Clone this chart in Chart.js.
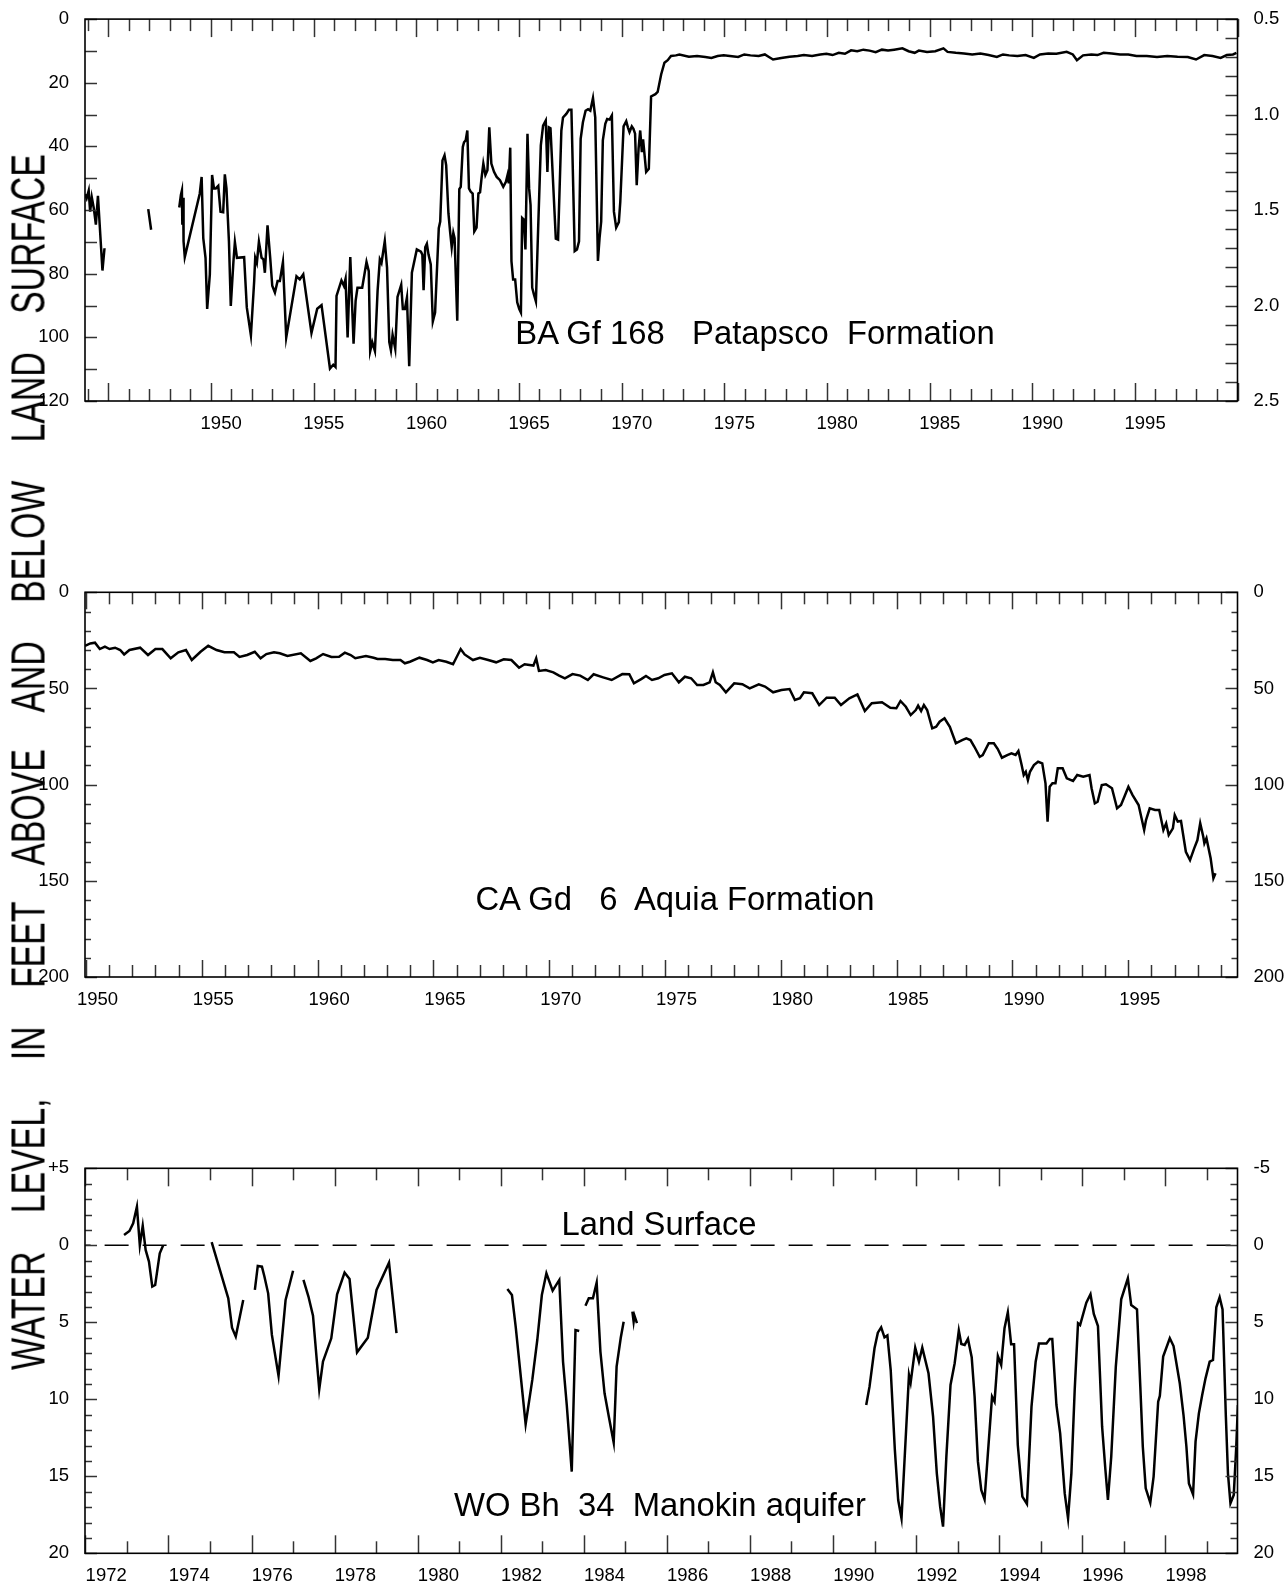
<!DOCTYPE html>
<html lang="en">
<head>
  <meta charset="UTF-8">
  <title>Water levels in three wells</title>
  <script src="https://cdn.jsdelivr.net/npm/chart.js"></script>
  <style>
    body { margin: 0; background: #fff; width: 1284px; height: 1583px; position: relative; overflow: hidden;
           font-family: "Liberation Sans", Arial, sans-serif; }
    canvas { position: absolute; left: 0; }
    .well { position: absolute; white-space: pre; font-size: 32.8px; line-height: 1; color: #000; transform: translateX(-50%); }
    #yTitle { position: absolute; left: 28px; top: 762px; font-size: 49px; line-height: 1; white-space: nowrap;
              word-spacing: 42px; color: #000; transform: translate(-50%, -50%) rotate(-90deg) scaleX(0.69); }
  </style>
</head>
<body>
  <canvas id="baChart" style="top:0px;width:1284px;height:440px" width="1284" height="440"></canvas>
  <canvas id="caChart" style="top:560px;width:1284px;height:460px" width="1284" height="460"></canvas>
  <canvas id="woChart" style="top:1130px;width:1284px;height:453px" width="1284" height="453"></canvas>

  <div id="yTitle">WATER LEVEL, IN FEET ABOVE AND BELOW LAND SURFACE</div>
  <div class="well" style="left:755px;top:317px">BA Gf 168   Patapsco  Formation</div>
  <div class="well" style="left:675px;top:883px">CA Gd   6  Aquia Formation</div>
  <div class="well" style="left:659px;top:1208px">Land Surface</div>
  <div class="well" style="left:660px;top:1489px">WO Bh  34  Manokin aquifer</div>

  <script>
    // ---- BA Gf 168, Patapsco Formation (feet below land surface) ----
    const baYears = [
      1943.87, 1943.95, 1944.05, 1944.12, 1944.2, 1944.3, 1944.4, 1944.5, 1944.72, 1944.82,
      1946,
      1946.95, 1947.09,
      1948,
      1948.46, 1948.54, 1948.59, 1948.61, 1948.65, 1948.67, 1948.73, 1949.46, 1949.55, 1949.63,
      1949.74, 1949.82, 1949.95, 1950.06, 1950.15, 1950.24, 1950.36, 1950.47, 1950.6, 1950.68,
      1950.76, 1950.88, 1950.97, 1951.1, 1951.17, 1951.27, 1951.62, 1951.75, 1951.95, 1952.11,
      1952.16, 1952.24, 1952.34, 1952.47, 1952.56, 1952.63, 1952.76, 1952.89, 1952.99, 1953.12,
      1953.25, 1953.36, 1953.51, 1953.67, 1954.17, 1954.33, 1954.5, 1954.9, 1955.18, 1955.39,
      1955.8, 1955.96, 1956.07, 1956.12, 1956.36, 1956.48, 1956.56, 1956.66, 1956.79, 1956.95,
      1957.05, 1957.14, 1957.37, 1957.58, 1957.69, 1957.76, 1957.86, 1957.99, 1958.12, 1958.23,
      1958.31, 1958.47, 1958.58, 1958.69, 1958.77, 1958.85, 1958.98, 1959.09, 1959.27, 1959.35,
      1959.45, 1959.55, 1959.66, 1959.79, 1960.03, 1960.23, 1960.3, 1960.36, 1960.44, 1960.52,
      1960.6, 1960.71, 1960.81, 1960.92, 1961.1, 1961.17, 1961.28, 1961.38, 1961.46, 1961.57,
      1961.65, 1961.73, 1961.81, 1961.87, 1962.0, 1962.1, 1962.17, 1962.27, 1962.33, 1962.41,
      1962.49, 1962.57, 1962.65, 1962.75, 1962.83, 1962.94, 1963.03, 1963.11, 1963.19, 1963.27,
      1963.37, 1963.47, 1963.56, 1963.66, 1963.79, 1963.92, 1964.08, 1964.24, 1964.37, 1964.45,
      1964.51, 1964.58, 1964.64, 1964.72, 1964.82, 1964.92, 1965.02, 1965.1, 1965.16, 1965.24,
      1965.32, 1965.42, 1965.5, 1965.57, 1965.65, 1965.73, 1965.83, 1965.94, 1966.07, 1966.18,
      1966.31, 1966.39, 1966.46, 1966.54, 1966.8, 1966.91, 1967.07, 1967.15, 1967.31, 1967.44,
      1967.56, 1967.72, 1967.83, 1967.93, 1968.01, 1968.12, 1968.25, 1968.37, 1968.48, 1968.61,
      1968.72, 1968.85, 1968.93, 1969.01, 1969.09, 1969.21, 1969.3, 1969.42, 1969.53, 1969.63,
      1969.74, 1969.87, 1969.94, 1970.1, 1970.23, 1970.31, 1970.39, 1970.5, 1970.58, 1970.66,
      1970.74, 1970.83, 1970.91, 1970.99, 1971.05, 1971.2, 1971.33, 1971.44, 1971.65, 1971.76,
      1971.93, 1972.09, 1972.25, 1972.41, 1972.65, 1972.82, 1973.28, 1973.68, 1974.08, 1974.38,
      1974.68, 1974.98, 1975.28, 1975.68, 1975.98, 1976.28, 1976.68, 1976.98, 1977.18, 1977.38,
      1977.78, 1978.18, 1978.58, 1978.88, 1979.28, 1979.68, 1979.98, 1980.28, 1980.58, 1980.88,
      1981.18, 1981.48, 1981.78, 1982.08, 1982.38, 1982.68, 1982.98, 1983.28, 1983.68, 1983.98,
      1984.28, 1984.48, 1984.88, 1985.28, 1985.68, 1985.88, 1986.28, 1986.68, 1987.08, 1987.48,
      1987.88, 1988.28, 1988.58, 1988.88, 1989.28, 1989.68, 1990.08, 1990.38, 1990.78, 1991.18,
      1991.68, 1991.98, 1992.18, 1992.48, 1992.88, 1993.18, 1993.48, 1993.88, 1994.28, 1994.68,
      1995.08, 1995.58, 1996.08, 1996.58, 1997.08, 1997.58, 1997.98, 1998.38, 1998.78, 1999.18,
      1999.48, 1999.78, 1999.95
    ];
    const baDepth = [
      55, 56.3, 53.9, 60.5, 56, 59.5, 64.6, 55.5, 79, 72,
      null,
      59.7, 66.2,
      null,
      59.2, 55.3, 53.9, 64.6, 56.1, 69.8, 74.8, 54.8, 49.6, 68.8,
      75, 91.1, 80.2, 49.0, 53.2, 53.2, 52.4, 60.5, 60.7, 48.8,
      53.2, 69.8, 90.1, 76.1, 70.1, 75.0, 74.8, 90.6, 99.4, 82.3,
      75.0, 76.6, 70.0, 75.0, 75.5, 79.7, 64.8, 75.0, 83.8, 85.9,
      82.3, 82.3, 76.4, 100.1, 80.8, 81.8, 80.2, 98.6, 91.0, 89.9,
      109.8, 108.6, 109.3, 87.0, 82.1, 83.8, 81.6, 100.0, 74.8, 102.0,
      88.5, 84.4, 84.4, 76.3, 79.2, 104.3, 101.5, 104.3, 85.4, 75.5,
      76.6, 69.8, 78.1, 101.5, 104.1, 99.2, 103.6, 87.3, 83.5, 91.1,
      91.1, 87.5, 109.1, 79.7, 72.4, 73.1, 74, 85.2, 71.7, 70.6,
      74, 77.1, 95, 92.2, 65.7, 63.6, 44.4, 42.8, 45.9, 61,
      66.7, 71.7, 67.2, 68.8, 94.8, 53.4, 52.7, 40.2, 38.7, 38.1,
      35, 53.2, 54.2, 54.8, 66.7, 65.5, 54.8, 54.4, 49.6, 45.4,
      49, 47.5, 34.0, 45.4, 48, 49.6, 50.6, 52.7, 51.1, 49,
      51.6, 40.4, 76.1, 81.8, 81.8, 89, 91.1, 92.2, 62.5, 63,
      72.4, 36, 53.2, 58.4, 84.4, 86.4, 88.7, 65.7, 39.7, 33.5,
      31.9, 48, 34, 34.3, 69, 69.3, 35, 30.9, 29.8, 28.5,
      28.5, 72.9, 72.4, 69.8, 37.6, 32.4, 28.8, 28.3, 28.8, 24.8,
      30.9, 76, 68.8, 63.6, 38.1, 32.9, 31.4, 31.6, 30.3, 60.5,
      65.5, 63.8, 57.4, 33.7, 32.1, 34, 35.5, 33.7, 34.5, 36,
      52.2, 40.7, 35, 41.8, 37.8, 48, 47, 24.3, 23.6, 22.9,
      17.4, 13.7, 12.9, 11.6, 11.4, 11.1, 11.8, 11.6, 11.9, 12.2,
      11.6, 11.4, 11.6, 11.9, 11.1, 11.4, 11.6, 11.1, 11.9, 12.7,
      12.2, 11.8, 11.6, 11.3, 11.6, 11.1, 10.9, 11.3, 10.6, 10.9,
      9.8, 10.1, 9.6, 9.9, 10.4, 9.6, 9.9, 9.6, 9.2, 10.1,
      10.6, 9.9, 10.3, 10.1, 9.2, 10.3, 10.6, 10.8, 11.1, 10.8,
      11.3, 11.9, 11.1, 11.4, 11.6, 11.3, 12.2, 11.1, 10.8, 10.9,
      10.3, 11.1, 12.9, 11.4, 11.1, 11.3, 10.6, 10.8, 11.1, 11.1,
      11.6, 11.6, 11.9, 11.6, 11.8, 11.9, 12.7, 11.3, 11.6, 12.2,
      11.3, 11.1, 10.6
    ];
    const baYearLabels = [1950, 1955, 1960, 1965, 1970, 1975, 1980, 1985, 1990, 1995];
    const baDepthTicks = [0, 20, 40, 60, 80, 100, 120];
    const baRightTicks = [0.5, 1.0, 1.5, 2.0, 2.5];

    // ---- CA Gd 6, Aquia Formation ----
    const caYears = [
      1949.96, 1950.19, 1950.39, 1950.6, 1950.82, 1951.02, 1951.26, 1951.48, 1951.65, 1951.88,
      1952.34, 1952.68, 1953.0, 1953.3, 1953.66, 1953.99, 1954.32, 1954.57, 1954.95, 1955.28,
      1955.64, 1955.98, 1956.39, 1956.63, 1956.96, 1957.29, 1957.54, 1957.79, 1958.12, 1958.37,
      1958.7, 1959.28, 1959.69, 1959.94, 1960.24, 1960.6, 1960.93, 1961.18, 1961.43, 1961.63,
      1962.09, 1962.42, 1962.59, 1962.92, 1963.25, 1963.58, 1963.77, 1963.99, 1964.4, 1964.73,
      1964.98, 1965.23, 1965.56, 1965.85, 1966.18, 1966.35, 1966.71, 1967.01, 1967.37, 1967.71,
      1968.04, 1968.37, 1968.7, 1968.94, 1969.32, 1969.44, 1969.56, 1969.85, 1970.18, 1970.43,
      1970.68, 1971.01, 1971.34, 1971.67, 1971.92, 1972.33, 1972.7, 1973.16, 1973.46, 1973.66,
      1973.99, 1974.18, 1974.44, 1974.71, 1974.98, 1975.3, 1975.6, 1975.86, 1976.13, 1976.39,
      1976.66, 1976.93, 1977.07, 1977.19, 1977.37, 1977.63, 1977.99, 1978.34, 1978.66, 1979.05,
      1979.32, 1979.67, 1980.03, 1980.38, 1980.61, 1980.83, 1981.0, 1981.36, 1981.66, 1981.98,
      1982.33, 1982.6, 1982.96, 1983.31, 1983.63, 1983.93, 1984.37, 1984.73, 1984.99, 1985.17,
      1985.4, 1985.61, 1985.83, 1985.93, 1986.06, 1986.18, 1986.32, 1986.54, 1986.71, 1986.86,
      1987.07, 1987.3, 1987.56, 1987.83, 1988.01, 1988.19, 1988.36, 1988.59, 1988.72, 1988.98,
      1989.2, 1989.37, 1989.55, 1989.78, 1989.96, 1990.14, 1990.26, 1990.4, 1990.49, 1990.58,
      1990.67, 1990.76, 1990.93, 1991.11, 1991.29, 1991.43, 1991.52, 1991.61, 1991.73, 1991.86,
      1991.96, 1992.17, 1992.35, 1992.62, 1992.8, 1993.06, 1993.33, 1993.42, 1993.56, 1993.68,
      1993.86, 1994.04, 1994.3, 1994.52, 1994.69, 1994.84, 1995.01, 1995.19, 1995.45, 1995.69,
      1995.77, 1995.93, 1996.16, 1996.34, 1996.52, 1996.64, 1996.75, 1996.93, 1997.01, 1997.14,
      1997.28, 1997.49, 1997.67, 1997.85, 1997.99, 1998.11, 1998.24, 1998.29, 1998.38, 1998.56,
      1998.68, 1998.77
    ];
    const caDepth = [
      27.8, 26.6, 26.2, 29.5, 28.3, 29.5, 28.8, 30, 32.3, 30,
      28.8, 32.6, 29.5, 29.5, 34.3, 31.2, 30, 35.2, 30.9, 27.8,
      30, 31.2, 31.2, 33.6, 32.6, 30.9, 34.3, 32.1, 31.2, 31.7,
      33.1, 31.7, 35.7, 34.3, 32.1, 33.6, 33.5, 31.4, 32.6, 34.3,
      33.1, 34, 34.7, 34.7, 35.2, 35.2, 36.9, 36.1, 34, 35.2,
      36.4, 35.2, 36.1, 37.4, 29.5, 32.3, 35.2, 34, 35.2, 36.4,
      34.8, 35.2, 39.2, 37.4, 38.1, 34.3, 40.9, 40.4, 41.6, 43.3,
      44.7, 42.5, 43.3, 45.6, 42.6, 44.2, 45.6, 42.5, 42.6, 47.3,
      45, 43.5, 45.6, 44.7, 43, 42.1, 46.8, 43.9, 44.7, 48.2,
      48.2, 46.8, 41.6, 46.8, 48.2, 52, 47.3, 47.8, 49.9, 47.8,
      49, 52, 50.8, 50.3, 56, 55.1, 52, 52.5, 58.6, 54.8,
      54.8, 58.6, 55.1, 53.1, 61.7, 57.7, 57.2, 60, 60.3, 56.5,
      59.5, 63.8, 61.2, 58.9, 61.7, 58.6, 61.2, 70.7, 69.9, 67.3,
      65.5, 69.9, 78.5, 76.8, 75.9, 76.8, 80.3, 85.5, 84.6, 78.5,
      78.5, 81.5, 86, 84.6, 83.7, 84.6, 82.5, 89.8, 95, 93.3,
      97.6, 93.3, 89.8, 88.1, 88.9, 99.3, 119.2, 101.1, 99.3, 99.3,
      91.5, 91.5, 96.7, 98.1, 95, 95.9, 95, 101.9, 109.7, 108.9,
      100.2, 99.8, 101.9, 112.3, 110.6, 106.2, 101.1, 105.4, 110.6, 123.6,
      118.4, 112.3, 113.2, 113.2, 123.6, 120.1, 126.2, 122.7, 115.8, 119.2,
      118.9, 134.9, 139.2, 133.1, 128.8, 120.1, 127.0, 130.5, 127.9, 138.3,
      148.7, 146.1
    ];
    const caYearLabels = [1950, 1955, 1960, 1965, 1970, 1975, 1980, 1985, 1990, 1995];
    const caDepthTicks = [0, 50, 100, 150, 200];

    // ---- WO Bh 34, Manokin aquifer (negative = above land surface) ----
    const woYears = [
      1972.93, 1973.06, 1973.15, 1973.24, 1973.31, 1973.38, 1973.45, 1973.53, 1973.61, 1973.68,
      1973.79, 1973.87,
      1974.5,
      1975.04, 1975.25, 1975.44, 1975.53, 1975.62, 1975.8,
      1975.95,
      1976.08, 1976.15, 1976.25, 1976.31, 1976.4, 1976.49, 1976.65, 1976.82, 1977.0,
      1977.1,
      1977.25, 1977.37, 1977.48, 1977.63, 1977.72, 1977.92, 1978.06, 1978.24, 1978.36, 1978.54,
      1978.8, 1979.01, 1979.31, 1979.49,
      1981,
      1982.16, 1982.27, 1982.36, 1982.6, 1982.76, 1982.88, 1982.99, 1983.1, 1983.25, 1983.41,
      1983.5, 1983.59, 1983.71, 1983.8, 1983.89,
      1983.97,
      1984.04, 1984.12, 1984.22, 1984.31, 1984.4, 1984.5, 1984.61, 1984.72, 1984.79, 1984.89,
      1984.96,
      1985.07,
      1985.17, 1985.2, 1985.22, 1985.28,
      1988,
      1990.8, 1990.88, 1991.0, 1991.08, 1991.16, 1991.24, 1991.31, 1991.39, 1991.49, 1991.57,
      1991.65, 1991.83, 1991.87, 1991.98, 1992.07, 1992.15, 1992.3, 1992.41, 1992.5, 1992.58,
      1992.65, 1992.73, 1992.83, 1992.93, 1993.03, 1993.09, 1993.17, 1993.25, 1993.34, 1993.41,
      1993.49, 1993.57, 1993.65, 1993.73, 1993.83, 1993.89, 1993.97, 1994.05, 1994.13, 1994.21,
      1994.29, 1994.36, 1994.45, 1994.56, 1994.67, 1994.78, 1994.88, 1994.96, 1995.14, 1995.22,
      1995.28, 1995.38, 1995.47, 1995.58, 1995.66, 1995.74, 1995.82, 1995.9, 1995.95, 1996.1,
      1996.2, 1996.28, 1996.38, 1996.48, 1996.56, 1996.62, 1996.7, 1996.81, 1996.94, 1997.1,
      1997.18, 1997.32, 1997.4, 1997.46, 1997.53, 1997.64, 1997.72, 1997.83, 1997.87, 1997.95,
      1998.11, 1998.2, 1998.35, 1998.44, 1998.51, 1998.57, 1998.67, 1998.73, 1998.81, 1998.89,
      1998.97, 1999.07, 1999.15, 1999.23, 1999.31, 1999.38, 1999.46, 1999.51, 1999.57, 1999.65,
      1999.71, 1999.75
    ];
    const woDepth = [
      -0.67, -0.93, -1.43, -2.51, 0.0, -1.26, 0.3, 1.06, 2.68, 2.58,
      0.52, 0.02,
      null,
      -0.2, 1.71, 3.44, 5.35, 5.93, 3.55,
      null,
      2.9, 1.34, 1.39, 2.03, 3.12, 5.82, 8.48, 3.55, 1.65,
      null,
      2.25, 3.33, 4.57, 9.35, 7.55, 6.04, 3.18, 1.77, 2.19, 6.95,
      6.0, 2.9, 1.13, 5.71,
      null,
      2.84, 3.23, 5.28, 11.62, 8.74, 6.15, 3.23, 1.82, 2.94, 2.25,
      7.55, 10.37, 14.7, 5.5, 5.56,
      null,
      3.92, 3.44, 3.44, 2.42, 6.9, 9.61, 11.23, 12.81, 7.88, 6.0,
      4.96,
      null,
      4.31, 4.96, 4.57, 5.06,
      null,
      10.37, 9.18, 6.69, 5.67, 5.33, 5.98, 5.85, 8.1, 13.29, 16.54,
      17.73, 8.42, 8.92, 6.65, 7.56, 6.65, 8.31, 11.13, 14.81, 16.97,
      18.27, 13.72, 9.07, 7.66, 5.54, 6.41, 6.47, 6.08, 7.27, 9.83,
      14.05, 15.89, 16.5, 13.51, 9.83, 10.15, 7.19, 7.77, 5.39, 4.35,
      6.43, 6.43, 12.97, 16.32, 16.8, 10.48, 7.56, 6.37, 6.37, 6.08,
      6.08, 10.37, 12.21, 16.11, 17.73, 14.81, 9.4, 5.07, 5.18, 3.72,
      3.18, 4.46, 5.24, 11.78, 14.59, 16.54, 13.72, 7.88, 3.51, 2.14,
      3.88, 4.16, 9.18, 13.08, 15.78, 16.71, 15.02, 10.15, 9.78, 7.23,
      6.04, 6.54, 8.96, 11.02, 13.08, 15.46, 16.17, 12.75, 10.91, 9.72,
      8.64, 7.56, 7.45, 4.03, 3.38, 4.16, 11.13, 14.81, 16.76, 16.21,
      13.08, 10.37
    ];
    const woYearLabels = [1972, 1974, 1976, 1978, 1980, 1982, 1984, 1986, 1988, 1990, 1992, 1994, 1996, 1998];
    const woDepthTicks = [-5, 0, 5, 10, 15, 20];
    const landSurfaceYears = [1972, 1999.75];

    const tickFont = { family: "'Liberation Sans', Arial, sans-serif", size: 18.5 };
    const PLOT_LEFT = 85, PLOT_RIGHT = 1237.5, PAGE_W = 1284;

    const toPoints = (xs, ys) => xs.map((x, i) => ({ x: x, y: ys[i] }));

    // frame around the plot plus inward tick marks on all four sides
    const frameTicks = {
      id: 'frameTicks',
      afterDatasetsDraw(chart, args, o) {
        const { ctx, chartArea: a, scales } = chart;
        ctx.save();
        ctx.strokeStyle = '#333';
        ctx.lineWidth = 1.5;
        const seg = (x1, y1, x2, y2) => { ctx.beginPath(); ctx.moveTo(x1, y1); ctx.lineTo(x2, y2); ctx.stroke(); };

        const xs = scales.x;
        for (let yr = Math.ceil(xs.min); yr <= xs.max; yr++) {
          const px = Math.round(xs.getPixelForValue(yr)) + 0.5;
          const len = yr % o.xMajor === 0 ? o.xLong : o.xShort;
          seg(px, a.bottom, px, a.bottom - len);
          seg(px, a.top, px, a.top + len);
        }

        const side = (s, spec, x0, dir) => {
          const n = Math.round((s.max - s.min) / spec.step);
          for (let i = 0; i <= n; i++) {
            const v = s.min + i * spec.step;
            const r = v / spec.major;
            const len = Math.abs(r - Math.round(r)) < 1e-6 ? spec.long : spec.short;
            const py = Math.round(s.getPixelForValue(v)) + 0.5;
            seg(x0, py, x0 + dir * len, py);
          }
        };
        side(scales.y, o.left, a.left, 1);
        side(scales.y2, o.right, a.right, -1);

        ctx.strokeStyle = '#000';
        ctx.lineWidth = 1.6;
        ctx.strokeRect(a.left, a.top, a.right - a.left, a.bottom - a.top);
        ctx.restore();
      }
    };

    function makePanel(id, p) {
      return new Chart(document.getElementById(id), {
        type: 'line',
        data: { datasets: p.datasets },
        options: {
          responsive: false,
          animation: false,
          events: [],
          layout: { padding: { top: p.padTop, left: 0, right: 0, bottom: 0 } },
          elements: { point: { radius: 0 }, line: { tension: 0 } },
          plugins: { legend: { display: false }, tooltip: { enabled: false }, frameTicks: p.marks },
          scales: {
            x: {
              type: 'linear', min: p.xMin, max: p.xMax,
              grid: { display: false }, border: { display: false },
              afterFit: s => { s.height = p.xHeight; },
              // year labels sit in the middle of the year they name
              afterBuildTicks: s => { s.ticks = p.xLabels.map(v => ({ value: v + 0.5 })); },
              ticks: { font: tickFont, color: '#000', padding: 4, maxRotation: 0, minRotation: 0, autoSkip: false,
                       callback: v => String(Math.round(v - 0.5)) }
            },
            y: {
              position: 'left', reverse: true, min: p.yMin, max: p.yMax,
              grid: { display: false }, border: { display: false },
              afterFit: s => { s.width = PLOT_LEFT; },
              afterBuildTicks: s => { s.ticks = p.yLabels.map(v => ({ value: v })); },
              ticks: { font: tickFont, color: '#000', padding: 8, callback: p.leftFmt }
            },
            y2: {
              position: 'right', reverse: true, min: p.y2Min, max: p.y2Max,
              grid: { display: false }, border: { display: false },
              afterFit: s => { s.width = PAGE_W - PLOT_RIGHT; },
              afterBuildTicks: s => { s.ticks = p.y2Labels.map(v => ({ value: v })); },
              ticks: { font: tickFont, color: '#000', padding: 8, callback: p.rightFmt }
            }
          }
        },
        plugins: [frameTicks]
      });
    }

    const hydrograph = (xs, ys) => ({
      data: toPoints(xs, ys), borderColor: '#000', borderWidth: 2.5, spanGaps: false,
      pointRadius: 0, xAxisID: 'x', yAxisID: 'y'
    });

    makePanel('baChart', {
      padTop: 16, xHeight: 39, xMin: 1943.87, xMax: 2000.0,
      yMin: 0, yMax: 120, y2Min: 0.5, y2Max: 2.5,
      xLabels: baYearLabels, yLabels: baDepthTicks, y2Labels: baRightTicks,
      leftFmt: v => String(v), rightFmt: v => v.toFixed(1),
      marks: { xMajor: 5, xLong: 18, xShort: 12,
               left: { step: 10, major: 20, long: 12, short: 12 },
               right: { step: 0.1, major: 0.5, long: 12, short: 12 } },
      datasets: [hydrograph(baYears, baDepth)]
    });

    makePanel('caChart', {
      padTop: 32.3, xHeight: 43, xMin: 1949.96, xMax: 1999.72,
      yMin: 0, yMax: 200, y2Min: 0, y2Max: 200,
      xLabels: caYearLabels, yLabels: caDepthTicks, y2Labels: caDepthTicks,
      leftFmt: v => String(v), rightFmt: v => String(v),
      marks: { xMajor: 5, xLong: 17, xShort: 12,
               left: { step: 10, major: 50, long: 12, short: 6 },
               right: { step: 10, major: 50, long: 12, short: 6 } },
      datasets: [hydrograph(caYears, caDepth)]
    });

    makePanel('woChart', {
      padTop: 38.3, xHeight: 29.7, xMin: 1971.99, xMax: 1999.74,
      yMin: -5, yMax: 20, y2Min: -5, y2Max: 20,
      xLabels: woYearLabels, yLabels: woDepthTicks, y2Labels: woDepthTicks,
      leftFmt: v => (v < 0 ? '+' + Math.abs(v) : String(v)), rightFmt: v => String(v),
      marks: { xMajor: 2, xLong: 18, xShort: 12,
               left: { step: 1, major: 5, long: 12, short: 7 },
               right: { step: 1, major: 5, long: 12, short: 7 } },
      datasets: [
        {
          data: toPoints(landSurfaceYears, landSurfaceYears.map(() => 0)),
          borderColor: '#000', borderWidth: 1.5, borderDash: [24, 14], borderDashOffset: 18.8,
          pointRadius: 0, xAxisID: 'x', yAxisID: 'y'
        },
        hydrograph(woYears, woDepth)
      ]
    });
  </script>
</body>
</html>
